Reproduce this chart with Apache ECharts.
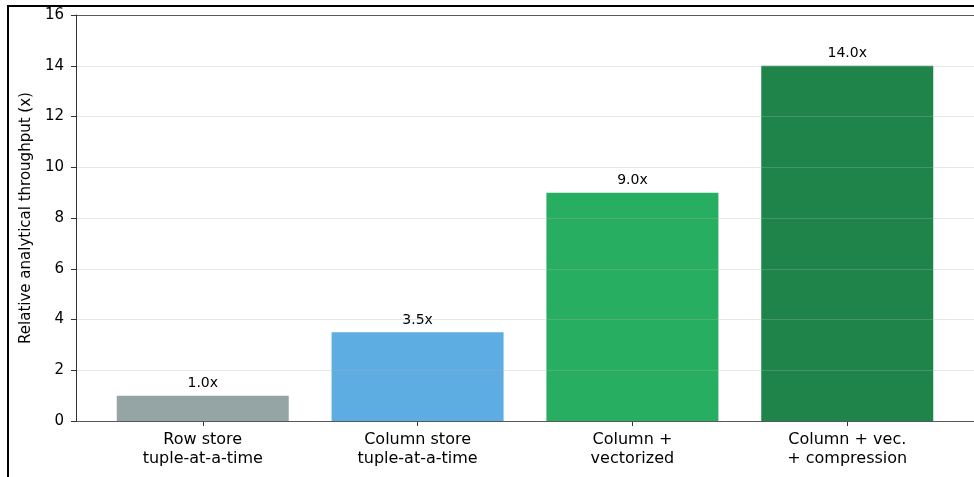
<!DOCTYPE html>
<html>
<head>
<meta charset="utf-8">
<script src="https://cdn.jsdelivr.net/npm/echarts@6/dist/echarts.min.js"></script>
<style>
  html, body { margin: 0; padding: 0; background: #fff; overflow: hidden; }
  #chart { position: absolute; left: 0; top: 0; width: 974px; height: 477px; }
  #frame { position: absolute; left: 7px; top: 5px; right: 0; bottom: 0;
           border-left: 2px solid #000; border-top: 2px solid #000; pointer-events: none; }
</style>
</head>
<body>
<div id="chart"></div>
<div id="frame"></div>
<script>
var categories = ['Row store\ntuple-at-a-time', 'Column store\ntuple-at-a-time', 'Column +\nvectorized', 'Column + vec.\n+ compression'];
var speedups = [1.0, 3.5, 9.0, 14.0];
var barColors = ['#95a5a6', '#5dade2', '#27ae60', '#1e8449'];
var positions = [0, 1, 2, 3];

var myChart = echarts.init(document.getElementById('chart'));

var barData = speedups.map(function (v, i) {
    return { value: [positions[i], v], itemStyle: { color: barColors[i] } };
});

var option = {
    animation: false,
    textStyle: { fontFamily: 'DejaVu Sans' },
    grid: {
        left: 76,
        top: 15,
        width: 899,
        height: 406
    },
    xAxis: [
        {
            type: 'value',
            min: -0.59,
            max: 3.59,
            splitLine: { show: false },
            axisLine: { show: true, onZero: false, lineStyle: { color: '#333' } },
            axisTick: { show: true, length: 5, customValues: positions, lineStyle: { color: '#333' } },
            axisLabel: {
                customValues: positions,
                margin: 9,
                fontSize: 16,
                lineHeight: 19,
                color: '#000',
                formatter: function (v) { return categories[Math.round(v)]; }
            }
        },
        {
            // top spine
            type: 'value',
            position: 'top',
            min: -0.59,
            max: 3.59,
            axisLine: { show: true, onZero: false, lineStyle: { color: '#333' } },
            axisTick: { show: false },
            axisLabel: { show: false },
            splitLine: { show: false }
        }
    ],
    yAxis: {
        type: 'value',
        min: 0,
        max: 16,
        interval: 2,
        z: 3,
        name: 'Relative analytical throughput (x)',
        nameLocation: 'middle',
        nameGap: 40,
        nameTextStyle: { fontSize: 15, color: '#000' },
        axisLine: { show: true, onZero: false, lineStyle: { color: '#333' } },
        axisTick: { show: true, length: 5, lineStyle: { color: '#333' } },
        axisLabel: { fontSize: 15, color: '#000', margin: 12 },
        splitLine: { lineStyle: { color: 'rgba(176,176,176,0.3)', width: 1 } }
    },
    series: [
        {
            type: 'bar',
            barWidth: 172,
            data: barData,
            label: {
                show: true,
                position: 'top',
                distance: 5,
                fontSize: 14,
                color: '#000',
                formatter: function (p) { return p.value[1].toFixed(1) + 'x'; }
            }
        }
    ]
};

myChart.setOption(option);
</script>
</body>
</html>
